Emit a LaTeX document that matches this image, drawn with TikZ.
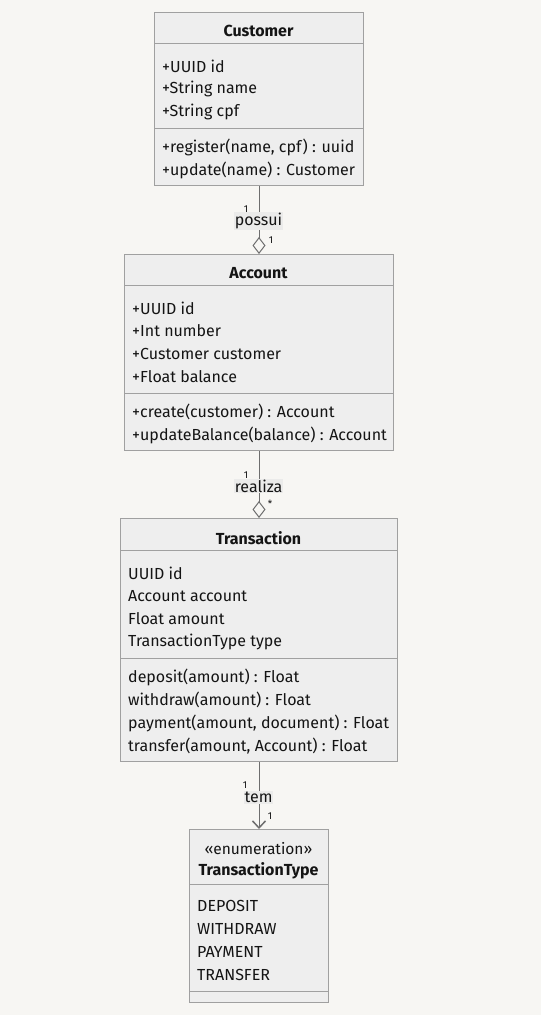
\documentclass[tikz,border=0pt]{standalone}
\usepackage{fontspec}
\setmainfont{Fira Sans}
\usetikzlibrary{arrows.meta,positioning}

\definecolor{bgcol}{HTML}{F7F6F3}
\definecolor{boxfill}{HTML}{EEEEEE}
\definecolor{boxline}{HTML}{A0A0A0}
\definecolor{inkcol}{HTML}{141414}
\definecolor{linecol}{HTML}{6E6E6E}
\definecolor{labelbg}{HTML}{EBEBEA}

\tikzset{
  classbox/.style={draw=boxline, fill=boxfill, line width=1pt, inner sep=0pt, anchor=north west},
  divider/.style={draw=boxline, line width=1pt},
  member/.style={anchor=west, inner sep=0pt, text=inkcol, font=\fontsize{16}{18}\selectfont},
  classname/.style={inner sep=0pt, text=inkcol, font=\bfseries\fontsize{16}{18}\selectfont},
  stereo/.style={inner sep=0pt, text=inkcol, font=\fontsize{15.5}{18}\selectfont},
  mult/.style={inner sep=0pt, text=inkcol, font=\fontsize{10}{12}\selectfont},
  rellabel/.style={fill=labelbg, inner sep=1pt, text=inkcol, font=\fontsize{16}{18}\selectfont},
  assoc/.style={draw=linecol, line width=1pt},
  aggr/.style={assoc, -{Diamond[open, length=17pt, width=13pt]}},
  navig/.style={assoc, -{Straight Barb[length=7pt, width=13pt, line width=1.5pt]}},
}

\begin{document}
\begin{tikzpicture}[x=1pt, y=-1pt]
\fill[bgcol] (0,0) rectangle (541,1015);
\useasboundingbox (0,0) rectangle (541,1015);

% Customer
\node[classbox, minimum width=209pt, minimum height=173pt] (customer) at (154,12) {};
\node[classname] (customer-name) at (258.5,31) {Customer};
\draw[divider] (154,43) -- (363,43);
\draw[divider] (154,128) -- (363,128);
\foreach \txt [count=\i] in {+UUID id, +String name, +String cpf}
  \node[member] (customer-attr-\i) at (162,43+23*\i) {\txt};
\foreach \txt [count=\i] in {{+register(name, cpf) : uuid}, {+update(name) : Customer}}
  \node[member] (customer-op-\i) at (162,124+23*\i) {\txt};

% Account
\node[classbox, minimum width=269pt, minimum height=196pt] (account) at (124,254) {};
\node[classname] (account-name) at (258.5,273) {Account};
\draw[divider] (124,285) -- (393,285);
\draw[divider] (124,393) -- (393,393);
\foreach \txt [count=\i] in {+UUID id, +Int number, +Customer customer, +Float balance}
  \node[member] (account-attr-\i) at (132,285+23*\i) {\txt};
\foreach \txt [count=\i] in {{+create(customer) : Account}, {+updateBalance(balance) : Account}}
  \node[member] (account-op-\i) at (132,389+23*\i) {\txt};

% Transaction
\node[classbox, minimum width=277pt, minimum height=243pt] (transaction) at (120,518) {};
\node[classname] (transaction-name) at (258.5,538) {Transaction};
\draw[divider] (120,550) -- (397,550);
\draw[divider] (120,658) -- (397,658);
\foreach \txt [count=\i] in {UUID id, Account account, Float amount, TransactionType type}
  \node[member] (transaction-attr-\i) at (128,550+23*\i) {\txt};
\foreach \txt [count=\i] in {{deposit(amount) : Float}, {withdraw(amount) : Float},
    {payment(amount, document) : Float}, {transfer(amount, Account) : Float}}
  \node[member] (transaction-op-\i) at (128,654+23*\i) {\txt};

% TransactionType
\node[classbox, minimum width=139pt, minimum height=173pt] (ttype) at (189,829) {};
\node[stereo] (ttype-stereo) at (258.5,849) {«enumeration»};
\node[classname] (ttype-name) at (258.5,871) {TransactionType};
\draw[divider] (189,884) -- (328,884);
\draw[divider] (189,991) -- (328,991);
\foreach \txt [count=\i] in {DEPOSIT, WITHDRAW, PAYMENT, TRANSFER}
  \node[member] (ttype-val-\i) at (197,883+23*\i) {\txt};

% relations
\draw[aggr] (customer.south) -- (account.north);
\node[rellabel] (possui) at (258.5,221) {possui};
\node[mult] (possui-from) at (246,209) {1};
\node[mult] (possui-to) at (271,240) {1};

\draw[aggr] (account.south) -- (transaction.north);
\node[rellabel] (realiza) at (258.5,486) {realiza};
\node[mult] (realiza-from) at (246,475) {1};
\node[mult] (realiza-to) at (270,504) {*};

\draw[navig] (transaction.south) -- (ttype.north);
\node[rellabel] (tem) at (258.5,797.5) {tem};
\node[mult] (tem-from) at (245,785) {1};
\node[mult] (tem-to) at (270,816) {1};
\end{tikzpicture}
\end{document}
